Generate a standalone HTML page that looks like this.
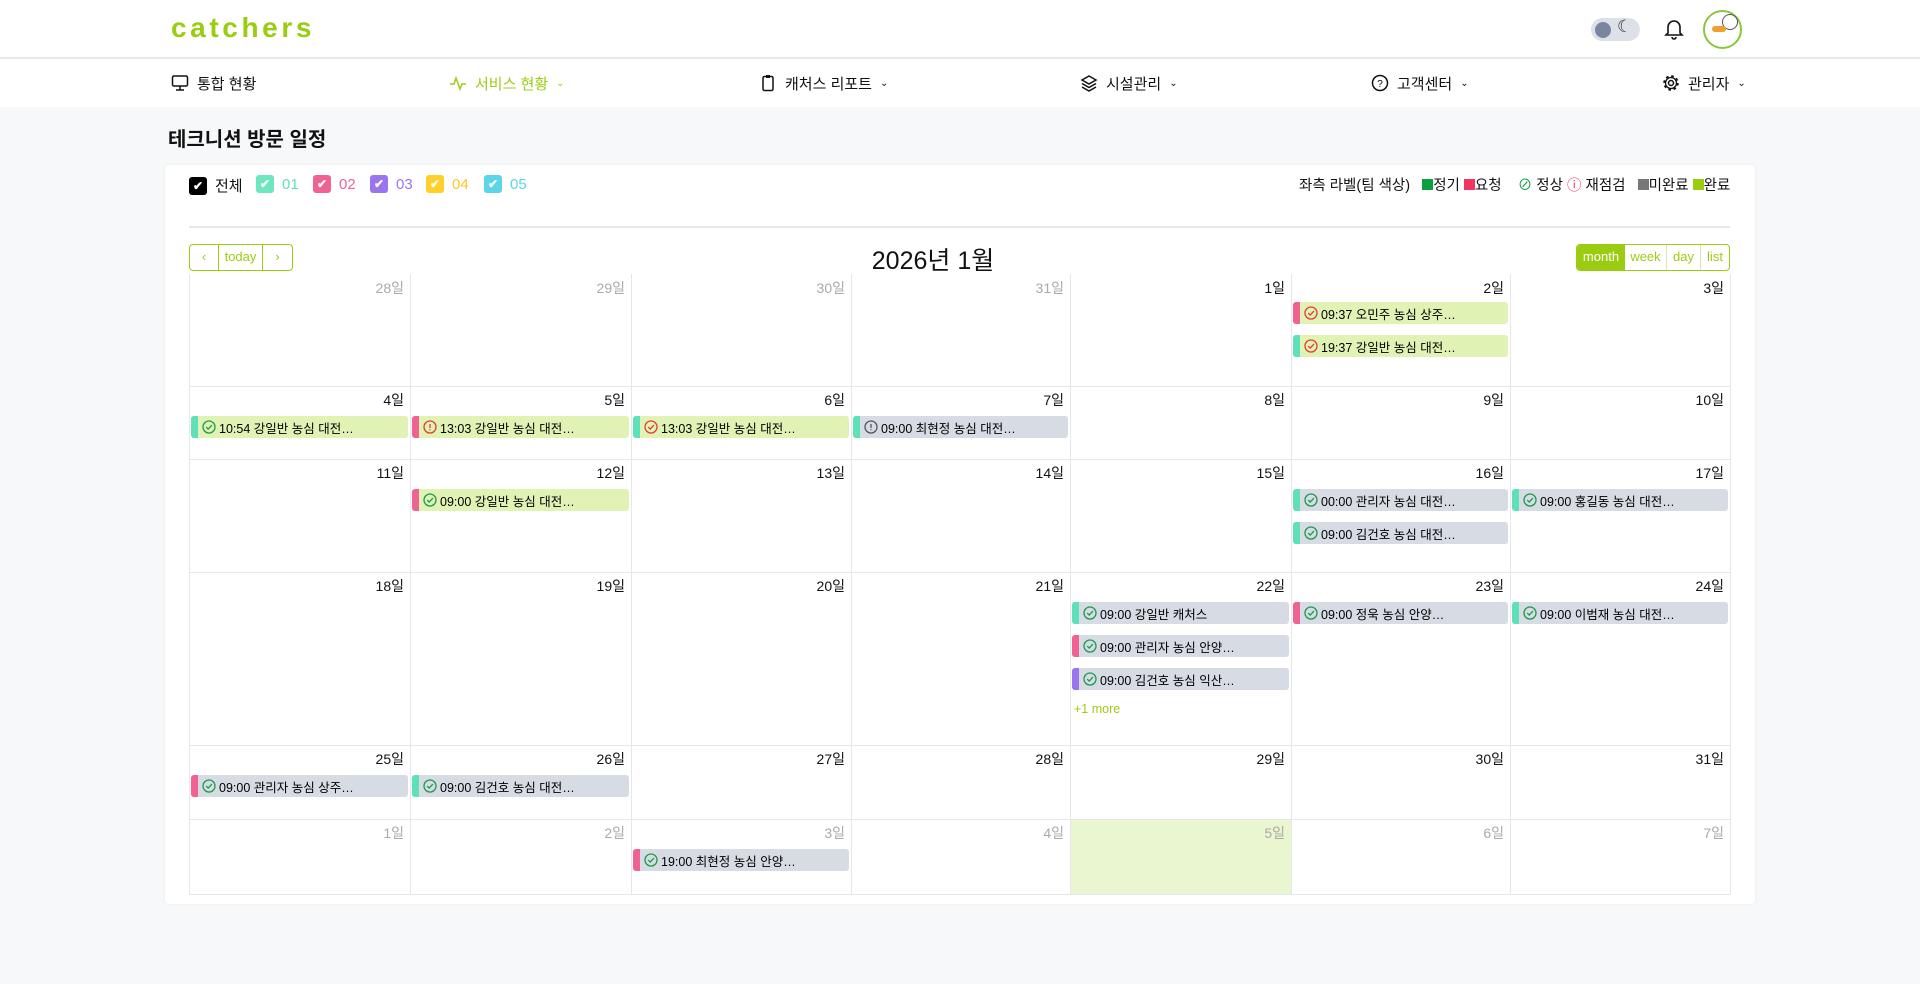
<!DOCTYPE html>
<html><head><meta charset="utf-8"><style>
*{box-sizing:border-box;margin:0;padding:0}
body{width:1920px;height:984px;background:#f7f8fa;font-family:"Liberation Sans","Noto Sans CJK KR",sans-serif;position:relative;overflow:hidden;color:#111}
.a{position:absolute}
.hdr{left:0;top:0;width:1920px;height:59px;background:#fff;border-bottom:2px solid #e6e8eb}
.nav{left:0;top:59px;width:1920px;height:48px;background:#fff}
.ni{position:absolute;top:0;height:48px;display:flex;align-items:center;font-size:15px;gap:8px}
.card{left:165px;top:165px;width:1590px;height:739px;background:#fff;border-radius:4px;box-shadow:0 0 3px rgba(0,0,0,.06)}
.cb{position:absolute;top:175px;display:flex;align-items:center;gap:8px;font-size:15px}
.cb i{display:inline-block;width:18px;height:18px;border-radius:3px;color:#fff;font-style:normal;font-size:12px;text-align:center;line-height:18px;font-weight:bold}
.vl{position:absolute;top:274px;height:620px;width:1px;background:#e5e7eb}
.hl{position:absolute;left:189px;width:1541px;height:1px;background:#e5e7eb}
.dn{position:absolute;font-size:14px;text-align:right;width:200px}
.ev{position:absolute;height:22px;border-radius:3px;font-size:12.5px;display:flex;align-items:center;overflow:hidden;white-space:nowrap;color:#000}
.ev b{width:7px;height:22px;flex:none;margin-right:4px}
.ev svg{flex:none;margin-right:3px}
.g{background:#e0f3b5}.y{background:#d7dbe3}
</style></head><body>
<div class="a hdr"></div>
<div class="a" style="left:171px;top:12px;font-size:28px;font-weight:bold;letter-spacing:3.6px;color:#9acd12">catchers</div>
<div class="a" style="left:1591px;top:18px;width:49px;height:23px;border-radius:12px;background:#dde1e7"></div>
<div class="a" style="left:1595px;top:22px;width:16px;height:16px;border-radius:50%;background:#7a86a0"></div>
<div class="a" style="left:1617px;top:17px;font-size:17px;color:#333">☾</div>
<svg class="a" style="left:1664px;top:18px" width="20" height="22" viewBox="0 0 20 22"><path d="M4 15V9a6 6 0 0112 0v6l2 2H2z M8 19a2 2 0 004 0" fill="none" stroke="#111" stroke-width="1.6"/></svg>
<div class="a" style="left:1703px;top:10px;width:39px;height:39px;border-radius:50%;border:2px solid #8cc63f;background:#fff"></div>
<div class="a" style="left:1722px;top:14px;width:16px;height:16px;border-radius:50%;border:1.5px solid #555"></div>
<div class="a" style="left:1712px;top:26px;width:14px;height:6px;background:#f0a030;border-radius:3px"></div>
<div class="a nav"></div>
<div class="ni" style="left:171px;top:59px"><svg width="18" height="18"><rect x="1.5" y="2" width="15" height="10" rx="1.5" fill="none" stroke="#111" stroke-width="1.5"/><path d="M9 12v4M5 16h8" stroke="#111" stroke-width="1.5"/></svg>통합 현황</div>
<div class="ni" style="left:449px;top:59px;color:#9acd12"><svg width="18" height="18"><path d="M1 10h4l2-6 4 11 2-5h4" fill="none" stroke="#9acd12" stroke-width="1.5"/></svg>서비스 현황 <span style="font-size:10px">⌄</span></div>
<div class="ni" style="left:759px;top:59px"><svg width="18" height="18"><rect x="4" y="2.5" width="10" height="14" rx="1.5" fill="none" stroke="#111" stroke-width="1.5"/><rect x="7" y="1" width="4" height="3" fill="#111"/></svg>캐처스 리포트 <span style="font-size:10px">⌄</span></div>
<div class="ni" style="left:1080px;top:59px"><svg width="18" height="18"><path d="M9 2l7 4-7 4-7-4zM2 9.5l7 4 7-4M2 13l7 4 7-4" fill="none" stroke="#111" stroke-width="1.5"/></svg>시설관리 <span style="font-size:10px">⌄</span></div>
<div class="ni" style="left:1371px;top:59px"><svg width="18" height="18"><circle cx="9" cy="9" r="7.5" fill="none" stroke="#111" stroke-width="1.5"/><text x="9" y="13" font-size="10" text-anchor="middle" font-family="Liberation Sans">?</text></svg>고객센터 <span style="font-size:10px">⌄</span></div>
<div class="ni" style="left:1662px;top:59px"><svg width="18" height="18"><circle cx="9" cy="9" r="2.5" fill="none" stroke="#111" stroke-width="1.5"/><circle cx="9" cy="9" r="6.5" fill="none" stroke="#111" stroke-width="2.5" stroke-dasharray="2.5 2.6"/><circle cx="9" cy="9" r="5.5" fill="none" stroke="#111" stroke-width="1.3"/></svg>관리자 <span style="font-size:10px">⌄</span></div>
<div class="a" style="left:168px;top:123px;font-size:20px;font-weight:bold">테크니션 방문 일정</div>
<div class="a card"></div>
<div class="cb" style="left:189px"><i style="background:#000">✔</i>전체</div>
<div class="cb" style="left:256px;color:#5ee0b8"><i style="background:#6ee7c0">✔</i>01</div>
<div class="cb" style="left:313px;color:#f06292"><i style="background:#f06292">✔</i>02</div>
<div class="cb" style="left:370px;color:#9a75f0"><i style="background:#9a75f0">✔</i>03</div>
<div class="cb" style="left:426px;color:#ffc52a"><i style="background:#ffd02a">✔</i>04</div>
<div class="cb" style="left:484px;color:#5bd6e8"><i style="background:#5bd6e8">✔</i>05</div>
<div class="a" style="left:1299px;top:174px;font-size:14.5px;display:flex;align-items:center;white-space:nowrap">좌측 라벨(팀 색상)&nbsp;&nbsp;&nbsp;<span style="width:11px;height:11px;background:#0a9f3f;display:inline-block"></span>정기&nbsp;<span style="width:11px;height:11px;background:#f5335f;display:inline-block"></span>요청&nbsp;&nbsp;&nbsp;&nbsp;<span style="color:#0a9f3f">⊘</span>&nbsp;정상&nbsp;<span style="color:#f5335f">ⓘ</span>&nbsp;재점검&nbsp;&nbsp;&nbsp;<span style="width:11px;height:11px;background:#777;display:inline-block"></span>미완료&nbsp;<span style="width:11px;height:11px;background:#9acd12;display:inline-block"></span>완료</div>
<div class="a" style="left:189px;top:226px;width:1541px;height:2px;background:#e5e7eb"></div>
<div class="a" style="left:189px;top:244px;width:104px;height:27px;border:1.5px solid #9acd12;border-radius:4px;display:flex;color:#9acd12;font-size:13px">
<div style="width:29px;text-align:center;line-height:24px;border-right:1.5px solid #9acd12">‹</div><div style="width:44px;text-align:center;line-height:24px;border-right:1.5px solid #9acd12">today</div><div style="flex:1;text-align:center;line-height:24px">›</div></div>
<div class="a" style="left:833px;top:241px;width:200px;text-align:center;font-size:25px">2026년 1월</div>
<div class="a" style="left:1576px;top:244px;width:154px;height:27px;border:1.5px solid #9acd12;border-radius:4px;display:flex;color:#9acd12;font-size:13px;overflow:hidden">
<div style="width:48px;text-align:center;line-height:24px;background:#9acd12;color:#fff">month</div><div style="width:42px;text-align:center;line-height:24px;border-right:1px solid #d4ebb0">week</div><div style="width:34px;text-align:center;line-height:24px;border-right:1px solid #d4ebb0">day</div><div style="flex:1;text-align:center;line-height:24px">list</div></div>
<div class="a" style="left:1071px;top:820px;width:220px;height:74px;background:#eaf6d0"></div>
<div class="vl" style="left:189px"></div><div class="vl" style="left:410px"></div><div class="vl" style="left:631px"></div><div class="vl" style="left:851px"></div><div class="vl" style="left:1070px"></div><div class="vl" style="left:1291px"></div><div class="vl" style="left:1510px"></div><div class="vl" style="left:1730px"></div>
<div class="hl" style="top:386px"></div><div class="hl" style="top:459px"></div><div class="hl" style="top:572px"></div><div class="hl" style="top:745px"></div><div class="hl" style="top:819px"></div><div class="hl" style="top:894px"></div>
<div id="dn"></div>
<script>
var L=[189,410,631,851,1070,1291,1510,1730],T=[274,386,459,572,745,819];
var days=[[28,29,30,31,1,2,3],[4,5,6,7,8,9,10],[11,12,13,14,15,16,17],[18,19,20,21,22,23,24],[25,26,27,28,29,30,31],[1,2,3,4,5,6,7]];
var h='';
for(var r=0;r<6;r++)for(var c=0;c<7;c++){var o=(r==0&&c<4)||r==5;h+='<div class="dn" style="left:'+(L[c+1]-206)+'px;top:'+(T[r]+4)+'px;color:'+(o?'#aaa':'#111')+'">'+days[r][c]+'일</div>';}
var C={t:'#5ee0b8',p:'#f06292',v:'#9a75f0'};
function ic(k){if(k=='c')return '<svg width="14" height="14"><circle cx="7" cy="7" r="6" fill="none" stroke="#1a9a4a" stroke-width="1.3"/><path d="M4.2 7.1l2 2 3.7-4" fill="none" stroke="#1a9a4a" stroke-width="1.3"/></svg>';
if(k=='x')return '<svg width="14" height="14"><circle cx="7" cy="7" r="6" fill="none" stroke="#e53935" stroke-width="1.3"/><path d="M4.2 7.1l2 2 3.7-4" fill="none" stroke="#e53935" stroke-width="1.3"/></svg>';
var col=k=='e'?'#e53935':'#555';return '<svg width="14" height="14"><circle cx="7" cy="7" r="6" fill="none" stroke="'+col+'" stroke-width="1.3"/><path d="M7 4v4M7 9.3v1" stroke="'+col+'" stroke-width="1.3"/></svg>';}
var E=[[0,5,0,'p','x','g','09:37 오민주 농심 상주…'],[0,5,1,'t','x','g','19:37 강일반 농심 대전…'],
[1,0,0,'t','c','g','10:54 강일반 농심 대전…'],[1,1,0,'p','e','g','13:03 강일반 농심 대전…'],[1,2,0,'t','x','g','13:03 강일반 농심 대전…'],[1,3,0,'t','n','y','09:00 최현정 농심 대전…'],
[2,1,0,'p','c','g','09:00 강일반 농심 대전…'],[2,5,0,'t','c','y','00:00 관리자 농심 대전…'],[2,5,1,'t','c','y','09:00 김건호 농심 대전…'],[2,6,0,'t','c','y','09:00 홍길동 농심 대전…'],
[3,4,0,'t','c','y','09:00 강일반 캐처스'],[3,4,1,'p','c','y','09:00 관리자 농심 안양…'],[3,4,2,'v','c','y','09:00 김건호 농심 익산…'],[3,5,0,'p','c','y','09:00 정욱 농심 안양…'],[3,6,0,'t','c','y','09:00 이범재 농심 대전…'],
[4,0,0,'p','c','y','09:00 관리자 농심 상주…'],[4,1,0,'t','c','y','09:00 김건호 농심 대전…'],[5,2,0,'p','c','y','19:00 최현정 농심 안양…']];
E.forEach(function(e){var top=T[e[0]]+(e[0]==0?28:30)+e[2]*33;h+='<div class="ev '+e[5]+'" style="left:'+(L[e[1]]+2)+'px;top:'+top+'px;width:'+(L[e[1]+1]-L[e[1]]-4)+'px"><b style="background:'+C[e[3]]+'"></b>'+ic(e[4])+e[6]+'</div>';});
h+='<div class="a" style="left:1074px;top:702px;font-size:12.5px;color:#9acd12">+1 more</div>';
document.getElementById('dn').innerHTML=h;
</script>
</body></html>
